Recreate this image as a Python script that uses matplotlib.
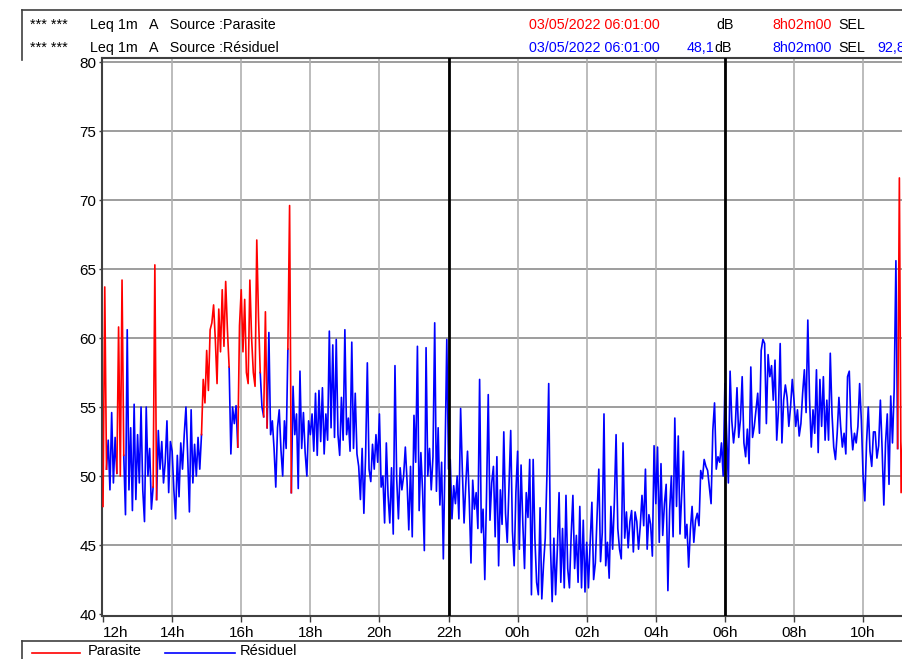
import numpy as np
import matplotlib
matplotlib.use('Agg')
from matplotlib import pyplot as plt
from matplotlib.lines import Line2D

plt.rcParams['font.family'] = ['Liberation Sans', 'DejaVu Sans']

# Leq 1m A, one value every 3 minutes, starting at 12:00 (one row per hour)
h12 = [47.8, 63.7, 50.5, 52.6, 49.0, 54.6, 49.5, 52.8, 50.2, 60.8, 50.0, 64.2, 51.5, 47.2, 60.6, 49.0, 53.5, 47.5, 55.2, 48.3]
h13 = [53.0, 49.5, 55.0, 49.0, 46.7, 55.0, 50.0, 52.0, 47.6, 49.2, 65.3, 48.3, 53.3, 50.5, 52.5, 49.5, 51.0, 54.0, 48.8, 52.5]
h14 = [51.8, 49.0, 46.9, 51.5, 48.5, 52.4, 50.5, 53.0, 55.0, 51.5, 47.4, 54.8, 49.5, 52.3, 50.0, 52.8, 50.5, 53.0, 57.0, 55.3]
h15 = [59.1, 56.2, 60.6, 61.1, 62.4, 59.9, 56.7, 62.1, 59.0, 63.5, 59.4, 64.1, 60.6, 57.9, 51.6, 55.0, 53.8, 55.1, 52.1, 60.9]
h16 = [63.5, 59.0, 62.8, 57.5, 56.7, 64.2, 60.0, 57.5, 56.5, 67.1, 61.5, 57.5, 55.0, 54.3, 61.9, 53.5, 60.4, 53.0, 54.0, 52.0]
h17 = [49.2, 53.5, 54.8, 51.9, 50.0, 54.0, 52.0, 59.2, 69.6, 48.8, 56.5, 53.0, 54.5, 49.1, 57.6, 52.0, 54.6, 51.7, 50.0, 54.0]
h18 = [53.0, 54.5, 51.8, 56.0, 51.5, 56.2, 52.5, 56.4, 51.6, 54.5, 52.6, 60.5, 53.5, 59.5, 52.8, 59.9, 53.0, 51.5, 55.7, 52.6]
h19 = [60.6, 53.0, 54.2, 51.8, 59.7, 52.0, 56.0, 51.6, 50.7, 48.3, 52.0, 47.3, 51.5, 58.2, 50.5, 49.6, 52.3, 50.5, 53.0, 51.0]
h20 = [54.5, 49.2, 50.0, 46.6, 52.4, 48.6, 46.6, 50.6, 45.8, 58.0, 49.8, 46.9, 50.6, 49.0, 50.0, 52.1, 49.6, 46.1, 50.7, 45.6]
h21 = [54.4, 51.0, 59.4, 47.5, 51.7, 48.9, 44.6, 59.3, 50.0, 52.0, 49.0, 51.4, 61.1, 48.9, 53.5, 47.9, 51.0, 44.0, 51.5, 59.9]
h22 = [50.5, 51.2, 46.9, 49.3, 48.0, 50.0, 46.9, 54.9, 50.4, 46.6, 49.4, 51.8, 48.3, 43.7, 49.7, 47.6, 48.8, 46.2, 57.0, 45.9]
h23 = [47.6, 42.5, 48.6, 55.9, 46.8, 49.5, 50.7, 45.6, 51.4, 43.5, 49.0, 46.5, 53.2, 47.3, 45.2, 49.3, 53.3, 46.0, 43.5, 48.8]
h00 = [51.8, 44.7, 50.8, 46.6, 43.3, 48.8, 47.0, 51.2, 41.4, 51.2, 45.5, 42.3, 41.4, 47.7, 41.1, 43.6, 45.5, 50.2, 56.7, 45.0]
h01 = [40.9, 45.5, 41.4, 44.7, 48.8, 42.3, 46.2, 41.9, 48.6, 43.3, 41.9, 45.7, 48.6, 43.3, 45.7, 42.3, 47.8, 41.9, 46.8, 41.6]
h02 = [45.2, 41.9, 45.2, 48.1, 42.5, 43.7, 47.1, 50.5, 43.8, 45.9, 54.5, 43.5, 45.2, 42.6, 47.8, 44.7, 48.1, 53.0, 46.2, 44.7]
h03 = [44.0, 52.4, 45.5, 47.4, 44.8, 46.7, 47.5, 44.5, 47.4, 46.7, 44.7, 46.4, 48.6, 46.4, 50.5, 44.7, 47.2, 46.5, 44.2, 52.2]
h04 = [48.0, 52.1, 45.2, 50.9, 45.7, 48.0, 49.4, 41.7, 47.5, 50.0, 45.6, 54.2, 47.8, 52.9, 45.8, 48.7, 51.8, 45.5, 46.5, 43.4]
h05 = [46.1, 47.8, 45.2, 46.8, 47.3, 46.4, 50.4, 49.8, 51.2, 50.7, 50.4, 49.2, 48.0, 53.3, 55.3, 50.5, 51.4, 51.0, 52.4, 50.0]
h06 = [56.7, 53.1, 49.5, 57.6, 54.0, 52.4, 53.6, 56.4, 52.8, 54.1, 57.2, 52.4, 51.4, 53.4, 50.9, 57.9, 52.8, 53.6, 54.8, 56.0]
h07 = [53.1, 59.1, 59.9, 59.6, 53.8, 58.8, 57.2, 58.0, 55.5, 58.4, 52.6, 54.8, 59.6, 52.4, 55.5, 56.6, 55.7, 53.6, 55.0, 57.0]
h08 = [55.5, 53.6, 54.8, 52.9, 53.8, 56.0, 57.7, 54.6, 61.3, 55.6, 52.1, 54.8, 53.1, 57.7, 51.7, 57.0, 53.6, 57.2, 52.6, 55.5]
h09 = [52.6, 58.9, 54.5, 52.1, 51.2, 53.1, 55.7, 53.6, 52.1, 53.1, 51.6, 57.2, 57.6, 53.6, 51.9, 53.1, 52.4, 53.6, 56.7, 54.0]
h10 = [50.0, 48.2, 52.4, 55.0, 51.8, 50.7, 53.2, 53.2, 51.3, 52.2, 55.5, 52.0, 47.9, 52.4, 54.5, 49.4, 55.8, 52.4, 56.3, 65.6]
h11 = [52.0, 71.6, 48.8, 52.5, 53.5]

# sample index ranges (inclusive) coded as source "Parasite", the rest is "Residuel"
parasite_periods = [(0, 2), (8, 12), (29, 31), (57, 73), (78, 91), (93, 95), (107, 109), (460, 464)]

tick_hours = [0, 2, 4, 6, 8, 10, 12, 14, 16, 18, 20, 22]
tick_labels = ['12h', '14h', '16h', '18h', '20h', '22h', '00h', '02h', '04h', '06h', '08h', '10h']
cursor_hours = [10, 18]   # 22h and 06h

level = np.array(h12 + h13 + h14 + h15 + h16 + h17 + h18 + h19 + h20 + h21 + h22 + h23 +
                 h00 + h01 + h02 + h03 + h04 + h05 + h06 + h07 + h08 + h09 + h10 + h11)
t = np.arange(len(level)) * 3 / 60.0

idx = np.arange(len(level))
is_par = np.zeros(len(level), bool)
inner = np.zeros(len(level), bool)
for a, b in parasite_periods:
    is_par |= (idx >= a) & (idx <= b)
    inner |= (idx > a) & (idx < b)
parasite = np.where(is_par, level, np.nan)
residuel = np.where(~inner, level, np.nan)

W, H = 903, 659
fig = plt.figure(figsize=(W / 100, H / 100), dpi=100)

def fx(x):
    return x / W

def fy(y):
    return 1 - y / H

ax = fig.add_axes([fx(102), fy(616), 801 / W, 558 / H])
ax.plot(t, residuel, color='#0000ff', lw=1.2, zorder=3)
ax.plot(t, parasite, color='#ff0000', lw=1.2, zorder=4)

ax.set_xlim(-0.03, 23.155)
ax.set_ylim(39.86, 80.29)
ax.set_yticks(range(40, 81, 5))
ax.set_xticks(tick_hours)
ax.set_xticklabels(tick_labels)
ax.get_xticklabels()[0].set_horizontalalignment('left')

for v in range(45, 81, 5):
    ax.axhline(v, color='#8c8c8c', lw=1.2, zorder=1)
for h in tick_hours[1:]:
    ax.axvline(h, color='#b0b0b0', lw=1.2, zorder=1)
for h in cursor_hours:
    ax.axvline(h, color='black', lw=2.0, zorder=5)

ax.spines['right'].set_visible(False)
for s in ['left', 'bottom', 'top']:
    ax.spines[s].set_color('#404040')
    ax.spines[s].set_linewidth(1.5)
ax.tick_params(axis='x', length=4, width=1, colors='#404040', labelcolor='black',
               labelsize=11, pad=3)
ax.tick_params(axis='y', length=2, width=1, colors='#404040', labelcolor='black',
               labelsize=11, pad=2)

# header
fs = 10.3
r1, r2 = 25, 48
fig.text(fx(30), fy(r1), '*** ***', fontsize=fs, va='center')
fig.text(fx(30), fy(r2), '*** ***', fontsize=fs, va='center')
fig.text(fx(90), fy(r1), 'Leq 1m   A   Source :Parasite', fontsize=fs, va='center')
fig.text(fx(90), fy(r2), 'Leq 1m   A   Source :Résiduel', fontsize=fs, va='center')
fig.text(fx(529), fy(r1), '03/05/2022 06:01:00', fontsize=fs, va='center', color='#ff0000')
fig.text(fx(529), fy(r2), '03/05/2022 06:01:00', fontsize=fs, va='center', color='#0000ff')
fig.text(fx(734), fy(r1), 'dB', fontsize=fs, va='center', ha='right')
fig.text(fx(714), fy(r2), '48,1', fontsize=fs, va='center', ha='right', color='#0000ff')
fig.text(fx(714), fy(r2), 'dB', fontsize=fs, va='center', ha='left')
fig.text(fx(772), fy(r1), '8h02m00', fontsize=fs, va='center', color='#ff0000')
fig.text(fx(772), fy(r2), '8h02m00', fontsize=fs, va='center', color='#0000ff')
fig.text(fx(838), fy(r1), 'SEL', fontsize=fs, va='center')
fig.text(fx(838), fy(r2), 'SEL', fontsize=fs, va='center')
fig.text(fx(877), fy(r2), '92,8', fontsize=fs, va='center', color='#0000ff')

frame = '#404040'
fig.add_artist(Line2D([fx(22), 1], [fy(10), fy(10)], color=frame, lw=1.2))
fig.add_artist(Line2D([fx(22), fx(22)], [fy(10), fy(60)], color=frame, lw=1.2))
fig.add_artist(Line2D([fx(22), 1], [fy(641), fy(641)], color=frame, lw=1.2))
fig.add_artist(Line2D([fx(22), fx(22)], [fy(641), 0], color=frame, lw=1.2))

# legend strip at the bottom
fig.add_artist(Line2D([fx(32), fx(80)], [fy(653), fy(653)], color='#ff0000', lw=1.2))
fig.text(fx(88), fy(651), 'Parasite', fontsize=10.5, va='center')
fig.add_artist(Line2D([fx(165), fx(235)], [fy(653), fy(653)], color='#0000ff', lw=1.2))
fig.text(fx(240), fy(651), 'Résiduel', fontsize=10.5, va='center')

fig.savefig('out.png', dpi=100)
